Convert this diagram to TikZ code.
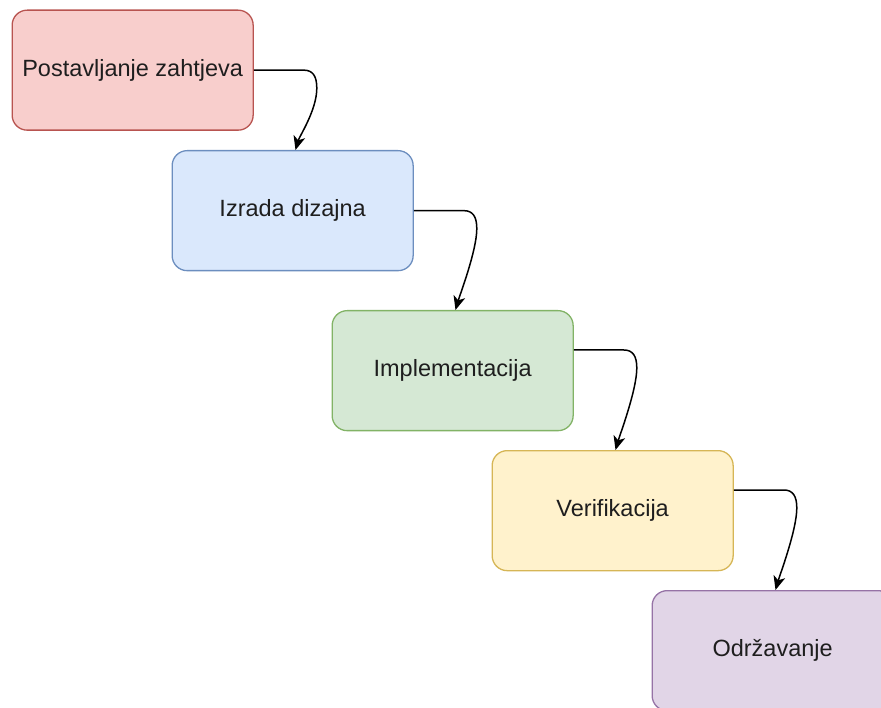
\documentclass[tikz,border=0pt]{standalone}
\usepackage{fontspec}
\setmainfont{Liberation Sans}
\usetikzlibrary{arrows.meta,calc}
\definecolor{redF}{HTML}{F8CECC}\definecolor{redD}{HTML}{B85450}
\definecolor{bluF}{HTML}{DAE8FC}\definecolor{bluD}{HTML}{6C8EBF}
\definecolor{grnF}{HTML}{D5E8D4}\definecolor{grnD}{HTML}{82B366}
\definecolor{yelF}{HTML}{FFF2CC}\definecolor{yelD}{HTML}{D6B656}
\definecolor{purF}{HTML}{E1D5E7}\definecolor{purD}{HTML}{9673A6}
\definecolor{txt}{HTML}{1E1E1E}
\begin{document}
\begin{tikzpicture}[x=1pt,y=-1pt,
  box/.style={line width=1.3pt, rounded corners=15pt, minimum width=241pt,
    minimum height=120pt, inner sep=0pt, anchor=north west,
    font=\fontsize{23.5}{28}\selectfont, text=txt},
  conn/.style={draw=black, line width=1.5pt,
    -{Stealth[length=14pt,width=12pt,inset=4pt]}}]
\useasboundingbox (0,0) rectangle (881,708);
\clip (0,0) rectangle (881,708);
\node[box, draw=redD, fill=redF] (r) at (11.5,9.5) {Postavljanje zahtjeva};
\node[box, draw=bluD, fill=bluF] (b) at (171.5,150) {Izrada dizajna};
\node[box, draw=grnD, fill=grnF] (g) at (331.5,310) {Implementacija};
\node[box, draw=yelD, fill=yelF] (y) at (491.5,450) {Verifikacija};
\node[box, draw=purD, fill=purF] (p) at (651.5,590) {Održavanje};
\draw[conn] (r.east) -- ++(50,0) .. controls +(9,0) and +(0,-12) .. ++(13,18)
  .. controls +(0,22) and +(4,-14) .. ($(b.north west)+(124,0)$);
\draw[conn] (b.east) -- ++(50,0) .. controls +(9,0) and +(0,-12) .. ++(13,18)
  .. controls +(0,22) and +(4,-14) .. ($(g.north west)+(124,0)$);
\draw[conn] ($(g.north east)+(0,40)$) -- ++(50,0) .. controls +(9,0) and +(0,-12) .. ++(13,18)
  .. controls +(0,22) and +(4,-14) .. ($(y.north west)+(124,0)$);
\draw[conn] ($(y.north east)+(0,40)$) -- ++(50,0) .. controls +(9,0) and +(0,-12) .. ++(13,18)
  .. controls +(0,22) and +(4,-14) .. ($(p.north west)+(124,0)$);
\end{tikzpicture}
\end{document}
